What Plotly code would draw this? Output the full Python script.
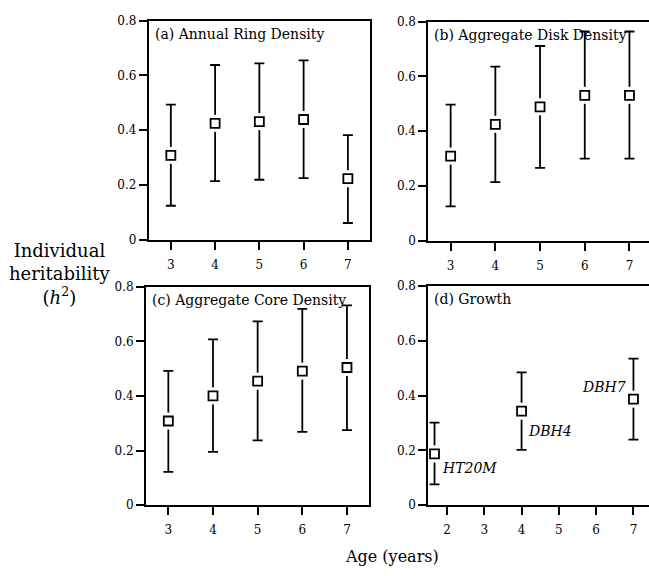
import plotly.graph_objects as go

W, H = 649, 576
FONT = "DejaVu Serif"

# ---- data ----
ages = [3, 4, 5, 6, 7]

ring_h2 = [0.308, 0.425, 0.431, 0.439, 0.223]
ring_hi = [0.493, 0.638, 0.644, 0.655, 0.382]
ring_lo = [0.124, 0.214, 0.219, 0.225, 0.061]

disk_h2 = [0.309, 0.425, 0.489, 0.531, 0.531]
disk_hi = [0.497, 0.636, 0.711, 0.764, 0.764]
disk_lo = [0.125, 0.214, 0.266, 0.300, 0.300]

core_h2 = [0.308, 0.400, 0.454, 0.491, 0.504]
core_hi = [0.492, 0.607, 0.673, 0.719, 0.732]
core_lo = [0.122, 0.195, 0.237, 0.268, 0.275]

growth_age = [20 / 12, 4, 7]
growth_lbl = ["HT20M", "DBH4", "DBH7"]
growth_h2 = [0.187, 0.343, 0.387]
growth_hi = [0.301, 0.485, 0.535]
growth_lo = [0.076, 0.202, 0.239]

panel_titles = ["(a) Annual Ring Density", "(b) Aggregate Disk Density",
                "(c) Aggregate Core Density", "(d) Growth"]
y_ticks = [0, 0.2, 0.4, 0.6, 0.8]
y_tick_text = ["0", "0.2", "0.4", "0.6", "0.8"]
age_ticks_abc = [3, 4, 5, 6, 7]
age_ticks_d = [2, 3, 4, 5, 6, 7]

# ---- layout geometry (pixels) ----
def dx(a, b):
    return [a / W, b / W]

def dy(top, bottom):
    return [1 - bottom / H, 1 - top / H]

panels = [
    dict(x=dx(148.7, 370), y=dy(14, 238.5), rng=[2.5, 7.5], mirror_y=True,
         xs=ages, v=ring_h2, hi=ring_hi, lo=ring_lo, ticks=age_ticks_abc),
    dict(x=dx(428.3, 649), y=dy(15, 239.5), rng=[2.5, 2.5 + (649 - 428.3) / 44.7], mirror_y=False,
         xs=ages, v=disk_h2, hi=disk_hi, lo=disk_lo, ticks=age_ticks_abc),
    dict(x=dx(146, 369.3), y=dy(286.7, 510.5), rng=[2.5, 7.5], mirror_y=True,
         xs=ages, v=core_h2, hi=core_hi, lo=core_lo, ticks=age_ticks_abc),
    dict(x=dx(428.3, 649), y=dy(286, 510.5), rng=[1.5, 1.5 + (649 - 428.3) / 37.3], mirror_y=False,
         xs=growth_age, v=growth_h2, hi=growth_hi, lo=growth_lo, ticks=age_ticks_d),
]

fig = go.Figure()
annotations = []
layout = {}

for i, p in enumerate(panels):
    n = "" if i == 0 else str(i + 1)
    xa, ya = "x" + n, "y" + n
    up = [h - v for h, v in zip(p["hi"], p["v"])]
    dn = [v - l for v, l in zip(p["v"], p["lo"])]
    # error bars
    fig.add_trace(go.Scatter(
        x=p["xs"], y=p["v"], mode="markers", xaxis=xa, yaxis=ya,
        marker=dict(size=1, color="rgba(0,0,0,0)"),
        error_y=dict(type="data", symmetric=False, array=up, arrayminus=dn,
                     thickness=1.8, width=5, color="black"),
        showlegend=False, hoverinfo="skip", cliponaxis=False))
    # white gap around squares
    fig.add_trace(go.Scatter(
        x=p["xs"], y=p["v"], mode="markers", xaxis=xa, yaxis=ya,
        marker=dict(symbol="square", size=17, color="white", line=dict(width=0)),
        showlegend=False, hoverinfo="skip", cliponaxis=False))
    # open squares
    fig.add_trace(go.Scatter(
        x=p["xs"], y=p["v"], mode="markers", xaxis=xa, yaxis=ya,
        marker=dict(symbol="square", size=9, color="white",
                    line=dict(width=1.8, color="black")),
        showlegend=False, cliponaxis=False))

    layout["xaxis" + n] = dict(
        domain=p["x"], range=p["rng"], anchor=ya, tickvals=p["ticks"],
        showgrid=False, zeroline=False, showline=True, linecolor="black",
        linewidth=1.8, mirror=True, ticks="outside", ticklen=8, tickwidth=1.5,
        tickcolor="black", ticklabelstandoff=5,
        tickfont=dict(family=FONT, size=12, color="black"))
    layout["yaxis" + n] = dict(
        domain=p["y"], range=[0, 0.8], anchor=xa, tickvals=y_ticks,
        ticktext=y_tick_text, showgrid=False, zeroline=False, showline=True,
        linecolor="black", linewidth=1.8, mirror=p["mirror_y"], ticks="outside",
        ticklen=8, tickwidth=1.5, tickcolor="black",
        tickfont=dict(family=FONT, size=12, color="black"))

    annotations.append(dict(
        text=panel_titles[i], xref=xa, yref=ya, x=p["rng"][0], y=0.8,
        xanchor="left", yanchor="middle", xshift=4, yshift=-13, showarrow=False,
        font=dict(family=FONT, size=14, color="black")))

# growth labels, placed relative to their points
label_shift = [(5, -14, "left"), (4, -20, "left"), (-5, 12, "right")]
for lbl, xv, yv, (sx, sy, anc) in zip(growth_lbl, growth_age, growth_h2, label_shift):
    annotations.append(dict(
        text="<i>" + lbl + "</i>", xref="x4", yref="y4", x=xv, y=yv,
        xanchor=anc, yanchor="middle", xshift=sx, yshift=sy, showarrow=False,
        font=dict(family=FONT, size=14, color="black")))

# axis titles
annotations.append(dict(
    text="Individual<br>heritability<br>(<i>h</i><sup>2</sup>)", xref="paper",
    yref="paper", x=60 / W, y=1 - 274 / H, xanchor="center", yanchor="middle",
    showarrow=False, align="center", font=dict(family=FONT, size=18, color="black")))
annotations.append(dict(
    text="Age (years)", xref="paper", yref="paper", x=392 / W, y=1 - 563 / H,
    xanchor="center", yanchor="middle", showarrow=False,
    font=dict(family=FONT, size=16, color="black")))

fig.update_layout(
    width=W, height=H, margin=dict(l=0, r=0, t=0, b=0),
    paper_bgcolor="white", plot_bgcolor="white",
    annotations=annotations, **layout)

fig.write_html("out.html")
